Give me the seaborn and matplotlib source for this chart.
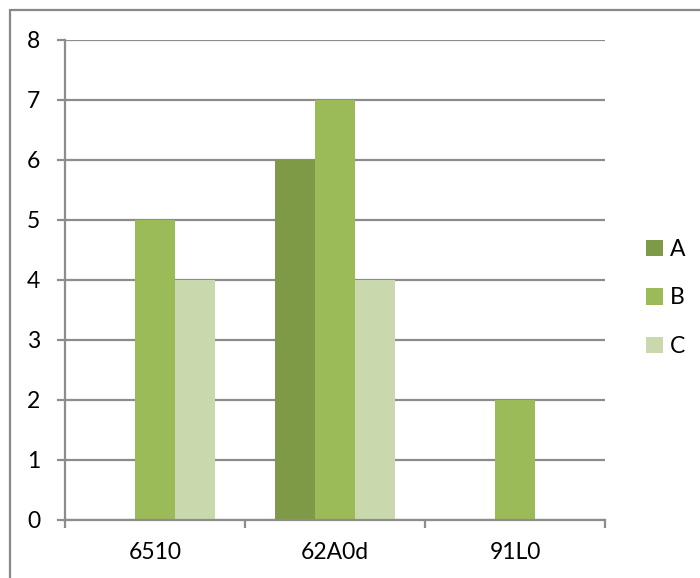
import matplotlib
matplotlib.use("Agg")
import matplotlib.pyplot as plt
import seaborn as sns
import pandas as pd
from matplotlib.patches import Rectangle
from matplotlib.ticker import FixedLocator

categories = ["6510", "62A0d", "91L0"]
series_names = ["A", "B", "C"]
values_A = [0, 6, 0]
values_B = [5, 7, 2]
values_C = [4, 4, 0]
y_ticks = [0, 1, 2, 3, 4, 5, 6, 7, 8]
colors = ["#7E9A47", "#9BBB59", "#C9D8AD"]

rows = []
for name, vals in zip(series_names, [values_A, values_B, values_C]):
    for c, v in zip(categories, vals):
        rows.append({"cat": c, "series": name, "value": v})
df = pd.DataFrame(rows)

sns.set_style("white")
plt.rcParams["font.family"] = ["Lato", "DejaVu Sans"]
plt.rcParams["text.color"] = "black"
plt.rcParams["xtick.color"] = "black"
plt.rcParams["ytick.color"] = "black"

fig = plt.figure(figsize=(7, 5.78), dpi=100)
ax = fig.add_axes([65/700, 58/578, 540/700, 480/578])

sns.barplot(data=df, x="cat", y="value", hue="series", order=categories,
            hue_order=series_names, palette=colors, width=0.667,
            saturation=1, ax=ax, linewidth=0, edgecolor="none")

grid_c = "#8C8C8C"
ax.set_ylim(0, 8)
ax.set_xlim(-0.5, 2.5)
ax.set_yticks(y_ticks)
ax.yaxis.grid(True, color=grid_c, linewidth=1.6)
ax.set_axisbelow(True)
ax.set_xlabel("")
ax.set_ylabel("")
for s in ["top", "right"]:
    ax.spines[s].set_visible(False)
for s in ["left", "bottom"]:
    ax.spines[s].set_color(grid_c)
    ax.spines[s].set_linewidth(1.6)

ax.tick_params(axis="y", length=6, width=1.6, color=grid_c, pad=12,
               labelsize=16.5, left=True, labelcolor="black")
ax.tick_params(axis="x", which="major", length=0, pad=16, labelsize=16.5,
               labelcolor="black")
ax.xaxis.set_minor_locator(FixedLocator([-0.5, 0.5, 1.5, 2.5]))
ax.tick_params(axis="x", which="minor", length=6, width=1.6, color=grid_c,
               bottom=True)

handles, labels = ax.get_legend_handles_labels()
ax.legend(handles, labels, loc="center left", bbox_to_anchor=(646/700, 1 - 298/578),
          bbox_transform=fig.transFigure, frameon=False, fontsize=16.5,
          handlelength=0.75, handleheight=0.75, handletextpad=0.3,
          labelspacing=1.2, borderaxespad=0, borderpad=0)

fig.patches.append(Rectangle((9.5/700, -0.05), 1.2, 0.05 + (578 - 9.5)/578,
                             transform=fig.transFigure, fill=False,
                             edgecolor="#888888", linewidth=1.6))

fig.savefig("out.png", dpi=100)
